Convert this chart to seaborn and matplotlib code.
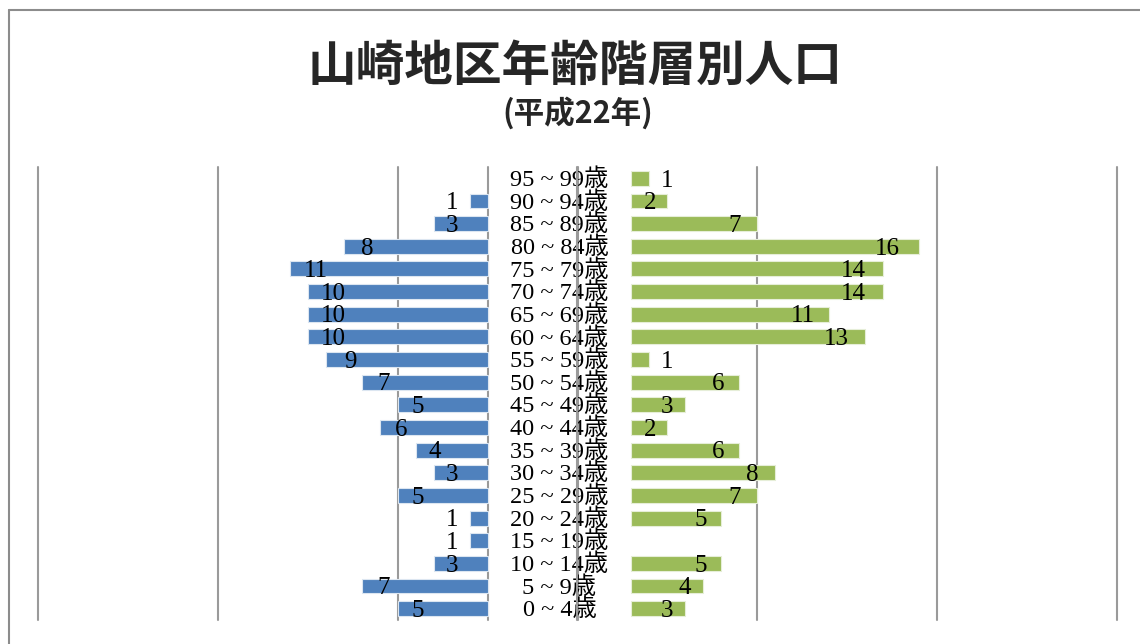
import matplotlib
matplotlib.use("Agg")
import matplotlib.pyplot as plt
import matplotlib.transforms as mtransforms
from matplotlib.lines import Line2D
import seaborn as sns
import pandas as pd

sns.set_theme(style="white")
plt.rcParams['font.family'] = ['Liberation Serif', 'Noto Sans CJK JP']

# age groups, top to bottom
ages = ['95 ~ 99歳', '90 ~ 94歳', '85 ~ 89歳', '80 ~ 84歳', '75 ~ 79歳',
        '70 ~ 74歳', '65 ~ 69歳', '60 ~ 64歳', '55 ~ 59歳', '50 ~ 54歳',
        '45 ~ 49歳', '40 ~ 44歳', '35 ~ 39歳', '30 ~ 34歳', '25 ~ 29歳',
        '20 ~ 24歳', '15 ~ 19歳', '10 ~ 14歳', '5 ~ 9歳', '0 ~ 4歳']
male = [0, 1, 3, 8, 11, 10, 10, 10, 9, 7, 5, 6, 4, 3, 5, 1, 1, 3, 7, 5]
female = [1, 2, 7, 16, 14, 14, 11, 13, 1, 6, 3, 2, 6, 8, 7, 5, 0, 5, 4, 3]

title = '山崎地区年齢階層別人口'
subtitle = '(平成22年)'

df = pd.DataFrame({'age': ages, 'male': male, 'female': female})

W, H = 1140, 644
fig = plt.figure(figsize=(W / 100, H / 100), dpi=100)

bottom = 1 - 620 / H
height = 453 / H
axL = fig.add_axes([38 / W, bottom, 540 / W, height])
axR = fig.add_axes([577 / W, bottom, 540 / W, height])

grid_color = '#9a9a9a'

sns.barplot(data=df, x='male', y='age', order=ages, color='#4F81BD',
            saturation=1, width=0.66, errorbar=None, ax=axL,
            edgecolor='#dce6f1', linewidth=0.8, zorder=3)
sns.barplot(data=df, x='female', y='age', order=ages, color='#9BBB59',
            saturation=1, width=0.66, errorbar=None, ax=axR,
            edgecolor='#e6eed8', linewidth=0.8, zorder=3)

# hide empty bars (their edge would still show)
for ax in (axL, axR):
    for p in ax.patches:
        if p.get_width() == 0:
            p.set_visible(False)

axL.set_xlim(25, -5)
axR.set_xlim(-3, 27)
for x in [-5, 0, 5, 15, 25]:
    axL.axvline(x, color=grid_color, lw=1.5, zorder=1, clip_on=False)
for x in [-3, 7, 17, 27]:
    axR.axvline(x, color=grid_color, lw=1.5, zorder=1, clip_on=False)

for ax in (axL, axR):
    ax.set_ylim(19.5, -0.5)
    ax.patch.set_alpha(0)
    ax.grid(False)
    ax.set_xticks([])
    ax.set_yticks([])
    ax.set_xlabel('')
    ax.set_ylabel('')
    for s in ax.spines.values():
        s.set_visible(False)

# data labels, placed near the bar end
def label_x(v):
    if v == 1:
        return v + 1.0
    return v - (0.8 + 0.06 * v)

for i, v in enumerate(male):
    if v > 0:
        axL.text(label_x(v), i + 0.1, str(v), ha='center', va='center',
                 fontsize=18, color='black', zorder=5, clip_on=False)
for i, v in enumerate(female):
    if v > 0:
        axR.text(label_x(v), i + 0.1, str(v), ha='center', va='center',
                 fontsize=18, color='black', zorder=5, clip_on=False)

# age labels in the gap between the two halves
trans = mtransforms.blended_transform_factory(fig.transFigure, axL.transData)
for i, a in enumerate(ages):
    axL.text(559.5 / W, i + 0.06, a, transform=trans, ha='center', va='center',
             fontsize=17.5, color='black', zorder=6, clip_on=False)

fig.text(575 / W, 1 - 66 / H, title, ha='center', va='center',
         fontsize=35, fontweight='bold', family=['Noto Sans CJK JP'])
fig.text(578 / W, 1 - 113 / H, subtitle, ha='center', va='center',
         fontsize=22, fontweight='bold', family=['Noto Sans CJK JP'])

# chart area border
fig.add_artist(Line2D([9 / W, 9 / W], [0, 1 - 10 / H], transform=fig.transFigure,
                      color='#8c8c8c', lw=1.5))
fig.add_artist(Line2D([9 / W, 1], [1 - 10 / H, 1 - 10 / H], transform=fig.transFigure,
                      color='#8c8c8c', lw=1.5))

fig.savefig('out.png', dpi=100, facecolor='white')
